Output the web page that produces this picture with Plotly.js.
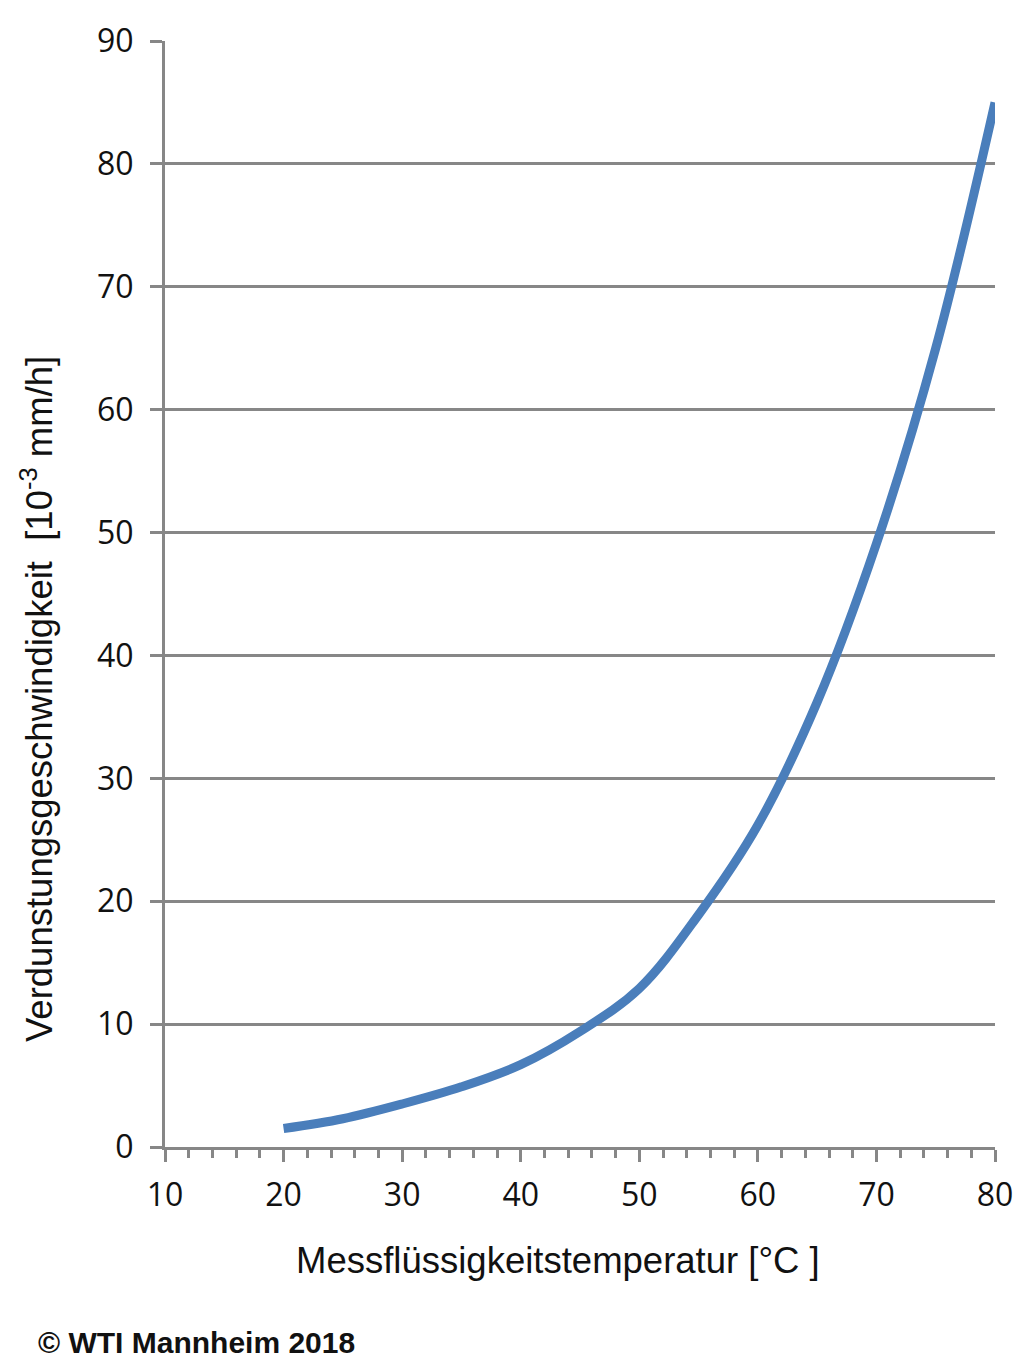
<!DOCTYPE html>
<html>
<head>
<meta charset="utf-8">
<script src="https://cdn.plot.ly/plotly-3.0.1.min.js"></script>
<style>html,body{margin:0;padding:0;background:#fff;}#chart{width:1024px;height:1368px;}</style>
</head>
<body>
<div id="chart"></div>
<script>
const temperature = [20, 25, 30, 35, 40, 45, 50, 55, 60, 65, 70, 75, 80];
const evaporationRate = [1.5, 2.3, 3.5, 4.9, 6.7, 9.4, 12.9, 18.9, 26.2, 36.2, 49.1, 65.0, 85.0];
const xTitle = 'Messflüssigkeitstemperatur [°C ]';
const yTitle = 'Verdunstungsgeschwindigkeit  [10<sup>-3</sup> mm/h]';
const footer = '© WTI Mannheim 2018';

const gridColor = '#878787';
const titleFont = {family: 'Liberation Sans, Arial, sans-serif', size: 36.5, color: '#111'};
const trace = {
  x: temperature, y: evaporationRate, type: 'scatter', mode: 'lines',
  line: {color: '#4a7ebb', width: 9, shape: 'spline', smoothing: 1},
  hoverinfo: 'skip'
};
const layout = {
  width: 1024, height: 1368,
  margin: {l: 165, r: 29, t: 41, b: 221},
  paper_bgcolor: '#ffffff', plot_bgcolor: '#ffffff',
  showlegend: false,
  xaxis: {
    range: [10, 80], dtick: 10, tick0: 10, autorange: false,
    showgrid: false, zeroline: false,
    showline: true, linecolor: gridColor, linewidth: 3,
    ticks: 'outside', ticklen: 12, tickwidth: 3, tickcolor: gridColor,
    minor: {dtick: 2, ticks: 'outside', ticklen: 8, tickwidth: 3, tickcolor: gridColor, showgrid: false},
    tickfont: {family: 'Open Sans, sans-serif', size: 32, color: '#111'},
    ticklabelstandoff: 6,
    automargin: false
  },
  yaxis: {
    range: [0, 90], dtick: 10, autorange: false,
    showgrid: true, gridcolor: gridColor, gridwidth: 3,
    zeroline: false,
    showline: true, linecolor: gridColor, linewidth: 3,
    ticks: 'outside', ticklen: 12, tickwidth: 3, tickcolor: gridColor,
    tickfont: {family: 'Open Sans, sans-serif', size: 32, color: '#111'},
    ticklabelstandoff: 10,
    automargin: false
  },
  annotations: [
    {text: xTitle, xref: 'paper', yref: 'paper', x: 0.4735, y: -0.1022,
     xanchor: 'center', yanchor: 'middle', showarrow: false, font: titleFont},
    {text: yTitle, xref: 'paper', yref: 'paper', x: -0.1542, y: 0.4051, textangle: -90,
     xanchor: 'center', yanchor: 'middle', showarrow: false, font: titleFont},
    {text: footer, xref: 'paper', yref: 'paper', x: -0.155, y: -0.177,
     xanchor: 'left', yanchor: 'middle', showarrow: false,
     font: {family: 'Liberation Sans, Arial, sans-serif', size: 30, color: '#111', weight: 'bold'}}
  ]
};
Plotly.newPlot('chart', [trace], layout, {displayModeBar: false, staticPlot: true});
</script>
</body>
</html>
